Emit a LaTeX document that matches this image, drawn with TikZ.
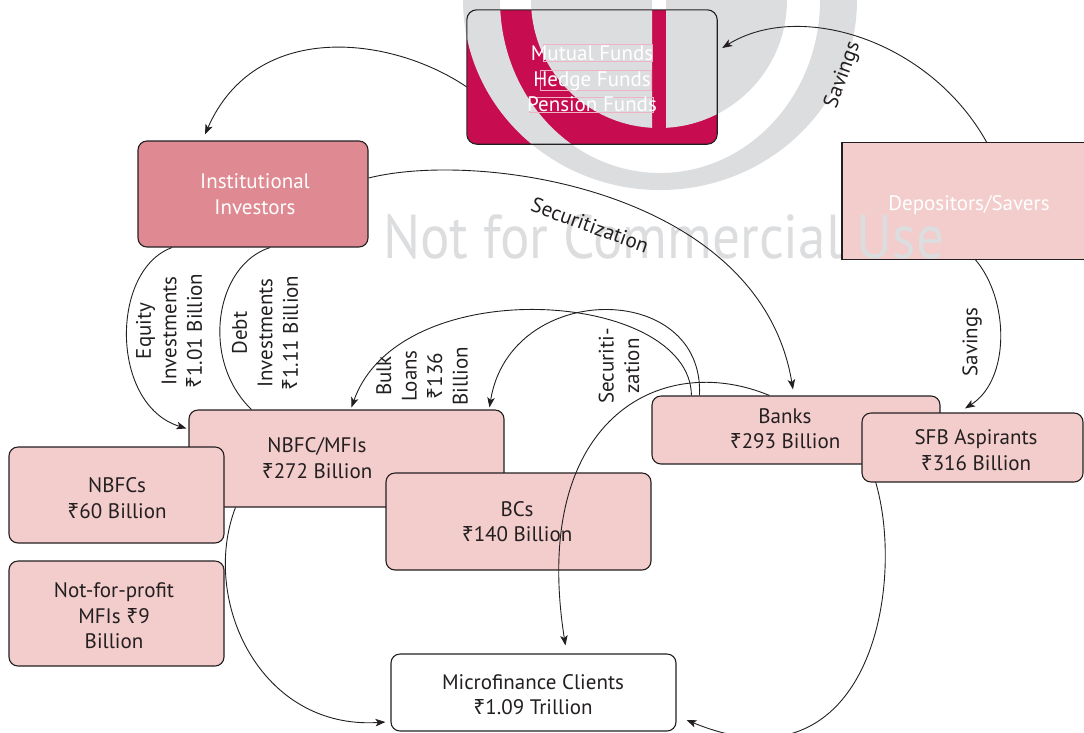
\documentclass[tikz,border=0pt]{standalone}
\usepackage{fontspec}
\setmainfont{PT Sans}
\newfontfamily\rupfont{Noto Sans}
\usetikzlibrary{arrows.meta,calc}
\definecolor{crim}{HTML}{C70C4F}
\definecolor{instc}{HTML}{DF8A92}
\definecolor{pinkc}{HTML}{F3CCCC}
\definecolor{ink}{HTML}{231F20}
\definecolor{wm}{HTML}{DCDDDF}
\definecolor{ghost}{HTML}{EDB5C4}
\newcommand\Rs{{\rupfont ₹}}
\begin{document}
\begin{tikzpicture}[x=1pt,y=-1pt,
  every node/.style={font=\fontsize{21}{25.5}\selectfont},
  box/.style={rectangle, rounded corners=9pt, draw=ink, line width=1.1pt, fill=pinkc, inner sep=0pt},
  lbl/.style={text=ink, align=center},
  wlbl/.style={text=white, align=center},
  link/.style={draw=ink, line width=0.9pt},
  conn/.style={link, -{Stealth[length=10pt,width=7.5pt,inset=2.5pt]}}]
\useasboundingbox (0,0) rectangle (1084,732);
\begin{scope}
\clip (0,0) rectangle (1084,732);
% box fills under the watermark
\node[rectangle, rounded corners=10pt, fill=crim, minimum width=250pt, minimum height=134pt, inner sep=0pt] (funds) at (592,77) {};
\node[rectangle, fill=pinkc, minimum width=260pt, minimum height=116pt, inner sep=0pt, anchor=west] (dep) at (842,201) {};
% watermark
\fill[wm, even odd rule] (660,0) ellipse [x radius=197, y radius=190] (660,0) ellipse [x radius=160, y radius=173];
\begin{scope}
\clip (0,0) rectangle (652,200) (666,0) rectangle (1084,200);
\fill[wm] (659,0) circle [radius=128];
\end{scope}
\node[text=wm, font=\fontsize{62}{62}\selectfont, anchor=base west, inner sep=0pt, xscale=0.89, transform shape] (wmtext) at (383,258) {Not for Commercial Use};
% faint frames in the funds box
\draw[ghost, line width=0.45pt] (543,44) rectangle (652,61) (540,70) rectangle (651,90) (529,97) rectangle (653,112);
% borders and texts over the watermark
\draw[ink, line width=1.1pt, rounded corners=10pt] (funds.north west) rectangle (funds.south east);
\node[wlbl] (fundst) at (592,79) {Mutual Funds\\Hedge Funds\\Pension Funds};
\draw[ink, line width=1.1pt] (dep.north east) -- (dep.north west) -- (dep.south west) -- (dep.south east);
\node[wlbl] (dept) at (969,205) {Depositors/Savers};
% other boxes
\node[box, fill=instc, minimum width=230pt, minimum height=106pt] (inst) at (253,194) {};
\node[wlbl] (instt) at (255,194) {Institutional\\Investors};
\node[box, minimum width=315pt, minimum height=97pt] (nbfcmfi) at (346.5,458.5) {};
\node[lbl] (nbfcmfit) at (317,458) {NBFC/MFIs\\\Rs272 Billion};
\node[box, minimum width=215pt, minimum height=96pt] (nbfcs) at (116.5,495) {};
\node[lbl] (nbfcst) at (117,498) {NBFCs\\\Rs60 Billion};
\node[box, minimum width=215pt, minimum height=105pt] (nfp) at (116.5,613.5) {};
\node[lbl] (nfpt) at (114,616) {Not-for-profit\\MFIs \Rs9\\Billion};
\node[box, minimum width=265pt, minimum height=97pt] (bcs) at (518.5,521.5) {};
\node[lbl] (bcst) at (517,521.5) {BCs\\\Rs140 Billion};
\node[box, fill=white, minimum width=285pt, minimum height=77pt] (mfc) at (533.5,692.5) {};
\node[lbl] (mfct) at (533,694.5) {Microfinance Clients\\\Rs1.09 Trillion};
\node[box, minimum width=288pt, minimum height=68pt] (banks) at (796,430) {};
\node[lbl] (bankst) at (785,428.5) {Banks\\\Rs293 Billion};
\draw[conn] ($(banks.south west)+(218,0)$) .. controls (910,560) and (880,800) .. ($(mfc.east)+(10,27.5)$);
\node[box, minimum width=221pt, minimum height=69pt] (sfb) at (972.5,447.5) {};
\node[lbl] (sfbt) at (976,450) {SFB Aspirants\\\Rs316 Billion};
% connectors
\draw[conn] ($(funds.west)+(0,10)$) .. controls (390,35) and (255,20) .. ($(inst.north)+(-48,-6)$);
\draw[conn] ($(dep.north west)+(145,0)$) .. controls (930,40) and (800,0) .. ($(funds.east)+(5,-29)$);
\node[lbl, rotate=70] (sav1) at (843,75) {Savings};
\draw[conn] ($(dep.south west)+(133,0)$) .. controls (1010,300) and (1010,380) .. ($(sfb.north)+(-7.5,-4)$);
\node[lbl, rotate=90] (sav2) at (972,342) {Savings};
\draw[conn] ($(inst.east)+(0,-16)$) .. controls (480,150) and (760,190) .. ($(banks.north)+(-3,-6)$);
\node[lbl, rotate=-20] (sec1) at (590,225) {Securitization};
\draw[conn] ($(inst.south)+(-81,0)$) .. controls (110,270) and (110,405) .. ($(nbfcmfi.north west)+(-2,19)$);
\node[lbl, rotate=90] (eq) at (169,331) {Equity\\Investments\\\Rs1.01 Billion};
\draw[link] ($(inst.south)+(17,0)$) .. controls (215,265) and (200,360) .. ($(nbfcmfi.north west)+(63,0)$);
\node[lbl, rotate=90] (debt) at (265,333) {Debt\\Investments\\\Rs1.11 Billion};
\draw[conn] ($(banks.north west)+(40,0)$) .. controls (690,290) and (400,270) .. ($(nbfcmfi.north west)+(163,-2)$);
\draw[conn] ($(banks.north west)+(48,0)$) .. controls (705,280) and (510,280) .. ($(nbfcmfi.north west)+(301,-2)$);
\node[lbl, rotate=90] (bulk) at (422,376) {Bulk\\Loans\\\Rs136\\Billion};
\node[lbl, rotate=90] (sec2) at (619,366) {Securiti-\\zation};
\draw[conn] ($(banks.north west)+(118,0)$) .. controls (660,350) and (530,420) .. ($(mfc.north west)+(175,-8)$);
\draw[conn] ($(nbfcmfi.south west)+(47,0)$) .. controls (200,600) and (260,730) .. ($(mfc.west)+(-5,29.5)$);
\end{scope}
\end{tikzpicture}
\end{document}
